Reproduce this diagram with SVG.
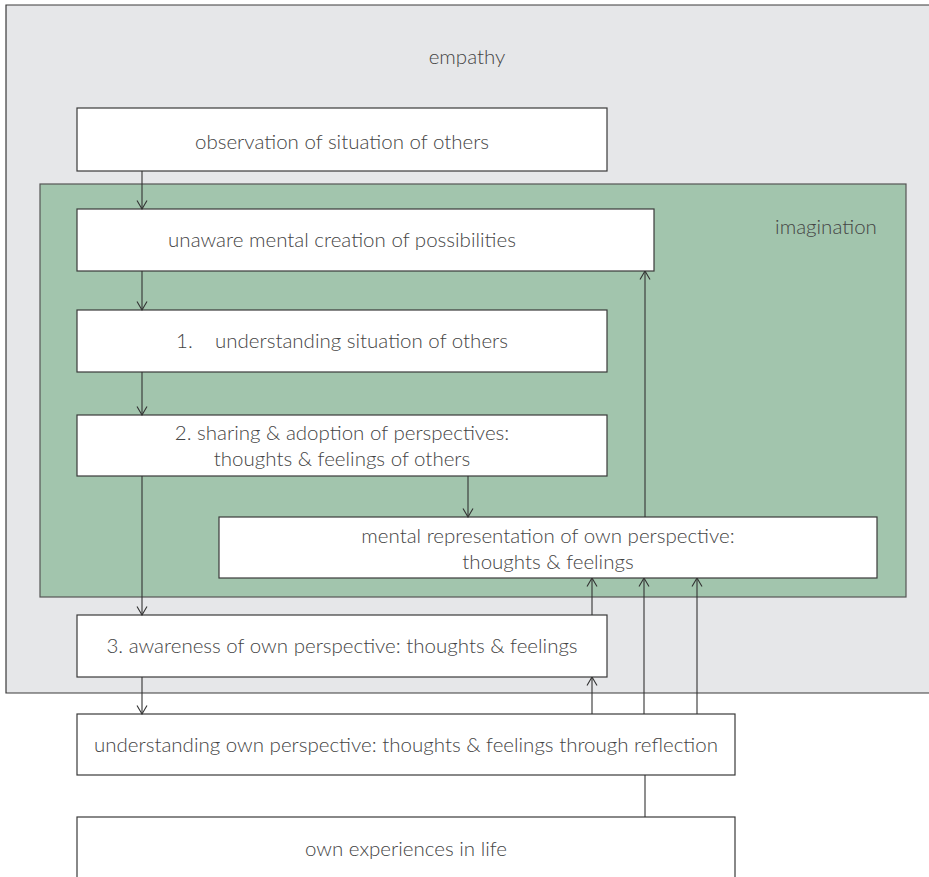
<svg xmlns="http://www.w3.org/2000/svg" width="929" height="877" viewBox="0 0 929 877">
<style>
.box{fill:#fff;stroke:#3a3a3a;stroke-width:1.2}
.t{font-family:Lato,"Noto Sans",sans-serif;font-weight:300;font-size:20.5px;fill:#444;text-anchor:middle}
.c{stroke:#333;stroke-width:1.1;fill:none}
</style>
<defs>
<marker id="d" viewBox="0 0 12 10" refX="6" refY="9.5" markerWidth="12" markerHeight="10" markerUnits="userSpaceOnUse" orient="0">
<path d="M1 1 L6 9.5 L11 1" fill="none" stroke="#333" stroke-width="1.1"/>
</marker>
<marker id="u" viewBox="0 0 12 10" refX="6" refY="0.5" markerWidth="12" markerHeight="10" markerUnits="userSpaceOnUse" orient="0">
<path d="M1 9 L6 0.5 L11 9" fill="none" stroke="#333" stroke-width="1.1"/>
</marker>
</defs>
<g id="empathy">
<path d="M930 5 H6 V693 H930" fill="#e6e7e9" stroke="#3a3a3a" stroke-width="1.2"/>
<text class="t" x="467" y="64">empathy</text>
</g>
<g id="imagination">
<rect x="40" y="184" width="866" height="413" fill="#a2c5ad" stroke="#555" stroke-width="1.2"/>
<text class="t" x="826" y="234">imagination</text>
</g>
<g id="observation">
<rect class="box" x="77" y="108" width="530" height="63"/>
<text class="t" x="342" y="149">observation of situation of others</text>
</g>
<g id="unaware">
<rect class="box" x="77" y="209" width="577" height="62"/>
<text class="t" x="342" y="247">unaware mental creation of possibilities</text>
</g>
<g id="understanding-others">
<rect class="box" x="77" y="310" width="530" height="62"/>
<text class="t" x="342" y="348" xml:space="preserve">1.    understanding situation of others</text>
</g>
<g id="sharing">
<rect class="box" x="77" y="415" width="530" height="61"/>
<text class="t" x="342" y="440">2. sharing &amp; adoption of perspectives:</text>
<text class="t" x="342" y="466">thoughts &amp; feelings of others</text>
</g>
<g id="mental-representation">
<rect class="box" x="219" y="517" width="658" height="61"/>
<text class="t" x="548" y="543">mental representation of own perspective:</text>
<text class="t" x="548" y="569">thoughts &amp; feelings</text>
</g>
<g id="awareness">
<rect class="box" x="77" y="615" width="530" height="62"/>
<text class="t" x="342" y="653">3. awareness of own perspective: thoughts &amp; feelings</text>
</g>
<g id="reflection">
<rect class="box" x="77" y="714" width="658" height="61"/>
<text class="t" x="406" y="752">understanding own perspective: thoughts &amp; feelings through reflection</text>
</g>
<g id="experiences">
<rect class="box" x="77" y="817" width="658" height="70"/>
<text class="t" x="406" y="856">own experiences in life</text>
</g>
<g id="connectors">
<line class="c" x1="142" y1="171" x2="142" y2="209" marker-end="url(#d)"/>
<line class="c" x1="142" y1="271" x2="142" y2="310" marker-end="url(#d)"/>
<line class="c" x1="142" y1="372" x2="142" y2="415" marker-end="url(#d)"/>
<line class="c" x1="142" y1="476" x2="142" y2="615" marker-end="url(#d)"/>
<line class="c" x1="142" y1="677" x2="142" y2="714" marker-end="url(#d)"/>
<line class="c" x1="468" y1="476" x2="468" y2="517" marker-end="url(#d)"/>
<line class="c" x1="645" y1="517" x2="645" y2="271" marker-end="url(#u)"/>
<line class="c" x1="592" y1="615" x2="592" y2="578" marker-end="url(#u)"/>
<line class="c" x1="592" y1="714" x2="592" y2="677" marker-end="url(#u)"/>
<line class="c" x1="644" y1="714" x2="644" y2="578" marker-end="url(#u)"/>
<line class="c" x1="697" y1="714" x2="697" y2="578" marker-end="url(#u)"/>
<line class="c" x1="645" y1="775" x2="645" y2="817"/>
</g>
</svg>
